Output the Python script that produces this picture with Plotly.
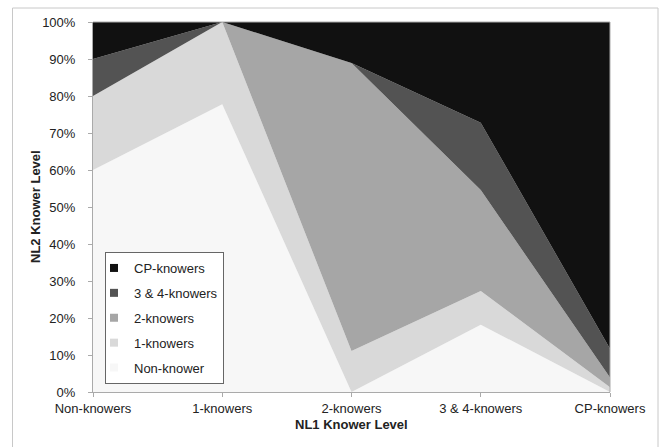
import plotly.graph_objects as go

categories = ["Non-knowers", "1-knowers", "2-knowers", "3 & 4-knowers", "CP-knowers"]
series_names = ["Non-knower", "1-knowers", "2-knowers", "3 & 4-knowers", "CP-knowers"]
non_knower = [60.0, 77.8, 0.0, 18.2, 0.0]
one_knowers = [20.0, 22.2, 11.1, 9.1, 1.3]
two_knowers = [0.0, 0.0, 77.8, 27.3, 2.6]
three_four_knowers = [10.0, 0.0, 0.0, 18.2, 7.8]
cp_knowers = [10.0, 0.0, 11.1, 27.3, 88.3]
y_ticks = [0, 10, 20, 30, 40, 50, 60, 70, 80, 90, 100]
y_tick_labels = [f"{v}%" for v in y_ticks]

values = [non_knower, one_knowers, two_knowers, three_four_knowers, cp_knowers]
colors = ["#f7f7f7", "#d9d9d9", "#a6a6a6", "#535353", "#111111"]

W, H = 661, 447
L, R, T, B = 93, 51, 22, 55
pw, ph = W - L - R, H - T - B

FAM = "Liberation Sans, Arial, sans-serif"
TXT = "#222222"

fig = go.Figure()
xs = list(range(len(categories)))
for name, vals, col in zip(series_names, values, colors):
    fig.add_trace(go.Scatter(
        x=xs, y=vals, name=name, mode="lines",
        stackgroup="one", line=dict(width=0, color=col),
        fillcolor=col, showlegend=False,
    ))
# legend entries with small square keys (top entry = top series)
for i, (name, col) in enumerate(zip(series_names[::-1], colors[::-1])):
    fig.add_trace(go.Scatter(
        x=[None], y=[None], name=name, mode="markers",
        marker=dict(symbol="square", size=8, color=col, line=dict(width=0)),
        legendgroup=f"g{i}", showlegend=True,
    ))

fig.update_layout(
    width=W, height=H,
    margin=dict(l=L, r=R, t=T, b=B, pad=0),
    paper_bgcolor="white", plot_bgcolor="white",
    font=dict(family=FAM, size=13, color=TXT),
    showlegend=True,
    legend=dict(
        traceorder="grouped",
        x=(105 - L) / pw, y=(H - B - 252) / ph, xanchor="left", yanchor="top",
        bordercolor="#666666", borderwidth=1, bgcolor="white",
        font=dict(family=FAM, size=13, color=TXT),
        itemwidth=30, tracegroupgap=5, indentation=-12,
    ),
    xaxis=dict(
        range=[0, 4], tickmode="array", tickvals=xs, ticktext=categories,
        showgrid=False, zeroline=False, showline=True, linecolor="#aaaaaa", linewidth=1,
        ticks="outside", ticklen=4, tickcolor="#aaaaaa",
    ),
    yaxis=dict(
        range=[0, 100], tickmode="array", tickvals=y_ticks, ticktext=y_tick_labels,
        showgrid=False, zeroline=False, showline=True, linecolor="#aaaaaa", linewidth=1,
        ticks="outside", ticklen=4, tickcolor="#aaaaaa", ticklabelstandoff=10,
    ),
)

fig.add_annotation(text="<b>NL1 Knower Level</b>", xref="paper", yref="paper",
                   x=0.5, y=(H - B - 424) / ph, xanchor="center", yanchor="middle",
                   showarrow=False, font=dict(family=FAM, size=13, color=TXT))
fig.add_annotation(text="<b>NL2 Knower Level</b>", xref="paper", yref="paper",
                   x=(35 - L) / pw, y=0.5, xanchor="center", yanchor="middle",
                   textangle=-90, showarrow=False, font=dict(family=FAM, size=13, color=TXT))

# plot-area top/right border and outer chart border
fig.add_shape(type="line", xref="paper", yref="paper", x0=0, x1=1, y0=1, y1=1,
              line=dict(color="#aaaaaa", width=1))
fig.add_shape(type="line", xref="paper", yref="paper", x0=1, x1=1, y0=0, y1=1,
              line=dict(color="#aaaaaa", width=1))
fig.add_shape(type="rect", xref="paper", yref="paper",
              x0=(12.5 - L) / pw, x1=(658 - L) / pw,
              y0=(H - B - 470) / ph, y1=(H - B - 8) / ph,
              line=dict(color="#c8c8c8", width=1), fillcolor="rgba(0,0,0,0)", layer="below")

fig.write_html("out.html", config={"displayModeBar": False})
with open("out.html", "r", encoding="utf-8") as f:
    html = f.read()
html = html.replace("<head>", "<head><style>html,body{margin:0;padding:0;overflow:hidden;}</style>", 1)
with open("out.html", "w", encoding="utf-8") as f:
    f.write(html)
